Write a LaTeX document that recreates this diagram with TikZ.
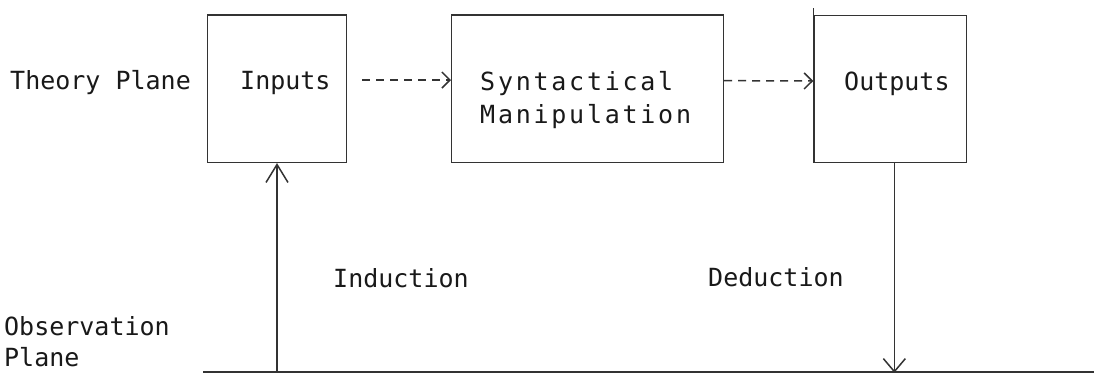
\documentclass[tikz,border=0pt]{standalone}
\usepackage{fontspec}
\setmonofont{DejaVu Sans Mono}
\usetikzlibrary{arrows.meta}
\begin{document}
\begin{tikzpicture}[x=1pt,y=-1pt,
  box/.style={draw=black!80, line width=1.5pt, inner sep=0pt},
  lbl/.style={font=\ttfamily\fontsize{25}{30}\selectfont, inner sep=0pt, anchor=base west, text=black!90},
  wide/.style={font=\ttfamily\fontsize{25}{30}\selectfont\addfontfeatures{LetterSpace=11}},
  conn/.style={draw=black!80, line width=1.5pt},
  solidarr/.style={conn, -{Straight Barb[length=18pt,width=22pt,line width=1.5pt]}},
  dasharr/.style={conn, dash pattern=on 8pt off 6pt, -{Straight Barb[length=8pt,width=16pt,line width=1.5pt]}}
]
\useasboundingbox (0,0) rectangle (1094,376);
\fill[white] (0,0) rectangle (1094,376);

% boxes
\node[box, minimum width=139.4pt, minimum height=147.3pt] (in)  at (277,88.65) {};
\node[box, minimum width=271.6pt, minimum height=147.3pt] (syn) at (587.5,88.65) {};
\node[box, minimum width=152.7pt, minimum height=146.6pt] (out) at (890.35,89) {};
\draw[conn] (out.north west) -- ++(0,-7);

% texts
\node[lbl] (theory) at (10,89) {Theory Plane};
\node[lbl] (intext) at (240,89.5) {Inputs};
\node[lbl, wide] (syn1) at (480,90) {Syntactical};
\node[lbl, wide] (syn2) at (480,123) {Manipulation};
\node[lbl] (outtext) at (844,90) {Outputs};
\node[lbl] (ind) at (333,287) {Induction};
\node[lbl] (ded) at (708,286) {Deduction};
\node[lbl] (obs1) at (4,335) {Observation};
\node[lbl] (obs2) at (4,366) {Plane};

% observation plane line
\coordinate (obsL) at (203,372);
\coordinate (obsR) at (1094,372);
\draw[conn] (obsL) -- (obsR);

% dashed arrows
\draw[dasharr] ([xshift=15pt,yshift=8.6pt]in.east) -- ([yshift=8.6pt]syn.west);
\draw[dasharr] ([yshift=8pt]syn.east) -- ([yshift=8pt]out.west);

% induction and deduction
\draw[solidarr] (in.south |- obsL) -- (in.south);
\draw[conn, -{Straight Barb[length=13pt,width=22pt,line width=1.5pt]}] ([xshift=4pt]out.south) -- ++(0,209.7);
\end{tikzpicture}
\end{document}
